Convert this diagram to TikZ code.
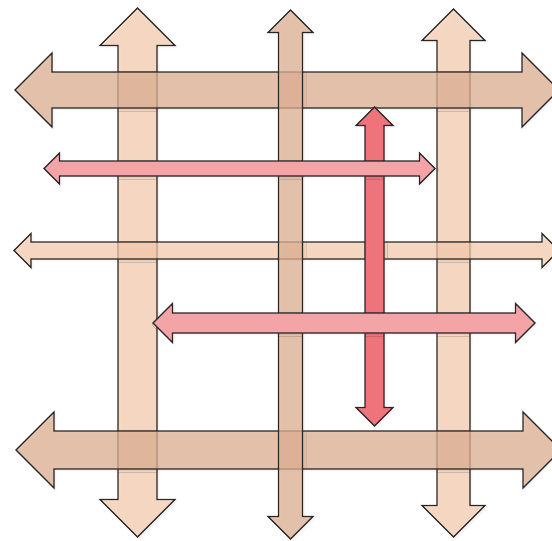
\documentclass[tikz,border=0pt]{standalone}
\usepackage{xcolor}
\usepackage{tikz}
\usetikzlibrary{calc, shadows.blur}

\definecolor{peach}{RGB}{249,205,175}
\definecolor{clay}{RGB}{224,178,149}
\definecolor{rose}{RGB}{244,163,166}
\definecolor{coral}{RGB}{238,115,122}

\newcommand{\harrow}[6][]{%
    \draw[#1] (#2,#4) -- (#2+#6,#4-#6) -- (#2+#6,#4-#5) -- (#3-#6,#4-#5) -- (#3-#6,#4-#6)
        -- (#3,#4) -- (#3-#6,#4+#6) -- (#3-#6,#4+#5) -- (#2+#6,#4+#5) -- (#2+#6,#4+#6) -- cycle;}
\newcommand{\varrow}[6][]{%
    \draw[#1] (#2,#3) -- (#2+#6,#3+#6) -- (#2+#5,#3+#6) -- (#2+#5,#4-#6) -- (#2+#6,#4-#6)
        -- (#2,#4) -- (#2-#6,#4-#6) -- (#2-#5,#4-#6) -- (#2-#5,#3+#6) -- (#2-#6,#3+#6) -- cycle;}

\begin{document}
\begin{tikzpicture}[x=1pt, y=-1pt,
    arrowshape/.style={draw=black!85, line width=1.3pt, line join=miter,
        blur shadow={shadow xshift=1.5pt, shadow yshift=-1.5pt, shadow opacity=8, shadow blur radius=2pt}},
    light/.style={arrowshape, fill=peach, fill opacity=0.7},
    dark/.style={arrowshape, fill=clay, fill opacity=0.75},
    pinkarrow/.style={arrowshape, fill=rose},
    redarrow/.style={arrowshape, fill=coral}]
    \useasboundingbox (0,0) rectangle (552,541);
    \clip (0,0) rectangle (552,541);
    \varrow[light]{137.5}{8}{537}{19.5}{37.5}
    \varrow[light]{453.5}{9}{537}{16.5}{31.5}
    \harrow[light]{14}{559}{250.5}{8.5}{17}
    \harrow[dark]{15}{559}{90}{18}{37}
    \harrow[dark]{16}{561}{450}{19}{38}
    \varrow[dark]{290.5}{10}{539}{12}{22.5}
    \varrow[redarrow]{374.5}{107}{426}{9.5}{18.5}
    \harrow[pinkarrow]{44}{435}{168.5}{7.5}{15.5}
    \harrow[pinkarrow]{153}{535}{323}{10}{19.5}
\end{tikzpicture}
\end{document}
